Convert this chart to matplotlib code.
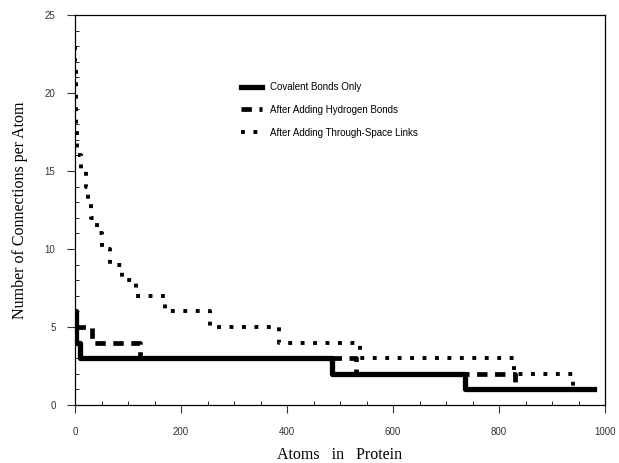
import matplotlib.pyplot as plt
import numpy as np
from matplotlib.ticker import MultipleLocator

# step data (x = atom index where the level starts)
covalent_x = [0, 1, 10, 485, 736, 980]
covalent_y = [6, 4, 3, 2, 1, 1]

hbond_x = [0, 33, 122, 530, 830, 980]
hbond_y = [5, 4, 3, 2, 1, 1]

space_x = [0, 0.5, 1, 1.5, 2, 2.5, 3, 4, 12, 21, 24, 30, 41, 50, 66, 88,
           115, 170, 255, 385, 538, 828, 940, 950]
space_y = [23, 22, 21, 20, 19, 18, 17, 16, 15, 14, 13, 12, 11, 10, 9, 8,
           7, 6, 5, 4, 3, 2, 1, 1]

x_ticks = [0, 200, 400, 600, 800, 1000]
y_ticks = [0, 5, 10, 15, 20, 25]

fig = plt.figure(figsize=(6.19, 4.63), dpi=100)
ax = fig.add_axes([75 / 619, 58 / 463, 530 / 619, 390 / 463])

ax.step(space_x, space_y, where="post", color="black", lw=2.8,
        dashes=(1.0, 2.2), solid_capstyle="butt",
        label="After Adding Through-Space Links")
ax.step(hbond_x, hbond_y, where="post", color="black", lw=3.4,
        dashes=(2.2, 1.6), label="After Adding Hydrogen Bonds")
ax.step(covalent_x, covalent_y, where="post", color="black", lw=3.8,
        label="Covalent Bonds Only")

ax.set_xlim(0, 1000)
ax.set_ylim(0, 25)
ax.set_xticks(x_ticks)
ax.set_yticks(y_ticks)
ax.xaxis.set_minor_locator(MultipleLocator(50))
ax.yaxis.set_minor_locator(MultipleLocator(1))
ax.tick_params(which="major", direction="out", length=6, width=0.8,
               labelsize=7, colors="#333333")
ax.tick_params(which="minor", direction="in", length=3, width=0.6)
ax.tick_params(axis="x", which="major", pad=10)
ax.tick_params(axis="y", which="major", pad=8)
for lab in ax.get_xticklabels() + ax.get_yticklabels():
    lab.set_family("Liberation Sans")
for sp in ax.spines.values():
    sp.set_linewidth(0.9)

ax.set_xlabel("Atoms   in   Protein", family="Liberation Serif", fontsize=11.5,
              labelpad=7)
ax.set_ylabel("Number of Connections per Atom", family="Liberation Serif",
              fontsize=11.5, labelpad=12)

handles, labels = ax.get_legend_handles_labels()
order = [2, 1, 0]
ax.legend([handles[i] for i in order], [labels[i] for i in order],
          loc="upper left", bbox_to_anchor=(0.296, 0.85), frameon=False,
          handlelength=2.2, labelspacing=1.3, prop={"family": "Liberation Sans", "size": 7})

fig.savefig("out.png", dpi=100)
